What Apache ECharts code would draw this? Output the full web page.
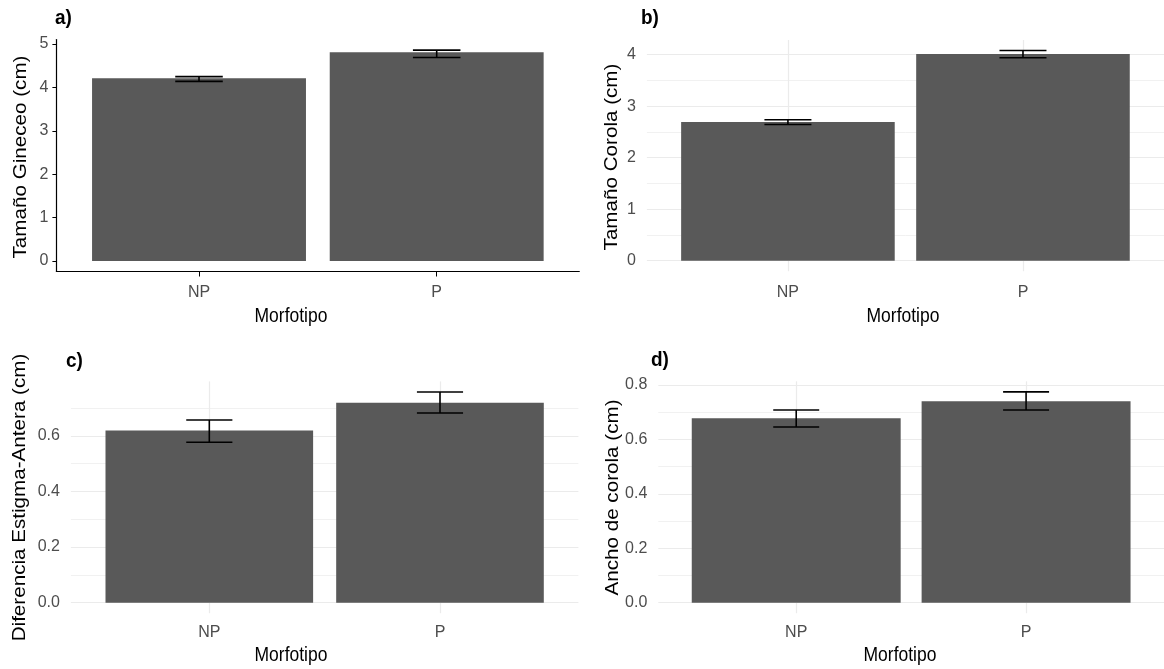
<!DOCTYPE html>
<html>
<head>
<meta charset="utf-8">
<title>Morfotipo</title>
<script src="https://cdn.jsdelivr.net/npm/echarts@6/dist/echarts.min.js"></script>
<style>
html,body{margin:0;padding:0;background:#fff;overflow:hidden;}
#main{width:1164px;height:669px;}
</style>
</head>
<body>
<div id="main"></div>
<script>
var categories = ['NP', 'P'];

// a) Tamaño Gineceo
var ginMean = [4.21, 4.81];
var ginLow = [4.14, 4.69];
var ginHigh = [4.25, 4.86];
var ginTicks = [0, 1, 2, 3, 4, 5];

// b) Tamaño Corola
var corMean = [2.69, 4.01];
var corLow = [2.645, 3.94];
var corHigh = [2.735, 4.08];
var corTicks = [0, 1, 2, 3, 4];
var corMinor = [0.5, 1.5, 2.5, 3.5];

// c) Diferencia Estigma-Antera
var difMean = [0.619, 0.719];
var difLow = [0.577, 0.682];
var difHigh = [0.657, 0.758];
var difTicks = [0, 0.2, 0.4, 0.6];
var difMinor = [0.1, 0.3, 0.5, 0.7];

// d) Ancho de corola
var anchoMean = [0.678, 0.740];
var anchoLow = [0.646, 0.708];
var anchoHigh = [0.708, 0.775];
var anchoTicks = [0, 0.2, 0.4, 0.6, 0.8];
var anchoMinor = [0.1, 0.3, 0.5, 0.7];

var FONT = '"Liberation Sans", Arial, sans-serif';
var STRETCH = 1.18; // the reference picture looks stretched vertically

var panels = [
    {tag:'a)', ytitle:'Tamaño Gineceo (cm)', mean:ginMean, low:ginLow, high:ginHigh, ticks:ginTicks, minor:null, dec:0,
     classic:true, left:56.4, right:584.7, top:39.6, bottom:397.5, xm:13, ym:8,
     tagX:55, tagY:18, xtX:291, xtY:316, ytX:21, ytY:157},
    {tag:'b)', ytitle:'Tamaño Corola (cm)', mean:corMean, low:corLow, high:corHigh, ticks:corTicks, minor:corMinor, dec:0,
     classic:false, left:646.9, right:-5, top:40, bottom:397.8, xm:13, ym:11,
     tagX:641, tagY:18, xtX:903, xtY:316, ytX:612, ytY:157},
    {tag:'c)', ytitle:'Diferencia Estigma-Antera (cm)', mean:difMean, low:difLow, high:difHigh, ticks:difTicks, minor:difMinor, dec:1,
     classic:false, left:70.9, right:585.6, top:381.4, bottom:55.8, xm:11, ym:11,
     tagX:66, tagY:361, xtX:291, xtY:655, ytX:20, ytY:497.5},
    {tag:'d)', ytitle:'Ancho de corola (cm)', mean:anchoMean, low:anchoLow, high:anchoHigh, ticks:anchoTicks, minor:anchoMinor, dec:1,
     classic:false, left:658.3, right:-5, top:381.3, bottom:55.8, xm:11, ym:11,
     tagX:651, tagY:360, xtX:900, xtY:655, ytX:613, ytY:497.5}
];

var grids = [], xAxes = [], yAxes = [], series = [], graphics = [];

function errorBarItem(params, api) {
    var x = api.value(0);
    var pLo = api.coord([x, api.value(1)]);
    var pHi = api.coord([x, api.value(2)]);
    var hw = api.size([0.2, 0])[0] / 2;
    var st = {stroke:'#000', lineWidth:1.6};
    return {type:'group', children:[
        {type:'line', shape:{x1:pHi[0], y1:pHi[1], x2:pLo[0], y2:pLo[1]}, style:st},
        {type:'line', shape:{x1:pHi[0] - hw, y1:pHi[1], x2:pHi[0] + hw, y2:pHi[1]}, style:st},
        {type:'line', shape:{x1:pLo[0] - hw, y1:pLo[1], x2:pLo[0] + hw, y2:pLo[1]}, style:st}
    ]};
}

panels.forEach(function (p, i) {
    grids.push({left:p.left, right:p.right, top:p.top, bottom:p.bottom, containLabel:false});
    var gridW = 1164 - p.left - p.right;
    var band = gridW / 2.2;
    var topVal = Math.max.apply(null, p.high);
    var yMin = -0.05 * topVal, yMax = topVal * 1.05;

    xAxes.push({
        type:'value', gridIndex:i, min:0.4, max:2.6,
        axisLine:{show:p.classic, onZero:false, lineStyle:{color:'#000', width:1.2}},
        axisTick:{show:p.classic, customValues:[1, 2], length:5, lineStyle:{color:'#000'}},
        axisLabel:{customValues:[1, 2], margin:p.xm, color:'#4D4D4D', fontSize:16, fontFamily:FONT,
            formatter:function (v) { return categories[Math.round(v) - 1]; }},
        splitLine:{show:!p.classic, lineStyle:{color:'#EBEBEB', width:1.2}}
    });
    var majorIdx = yAxes.length;
    yAxes.push({
        type:'value', gridIndex:i, min:yMin, max:yMax,
        axisLine:{show:p.classic, onZero:false, lineStyle:{color:'#000', width:1.2}},
        axisTick:{show:p.classic, customValues:p.ticks, length:4, lineStyle:{color:'#000'}},
        axisLabel:{customValues:p.ticks, margin:p.ym, color:'#4D4D4D', fontSize:16, fontFamily:FONT,
            formatter:function (v) { return v.toFixed(p.dec); }},
        splitLine:{show:!p.classic, lineStyle:{color:'#EBEBEB', width:1.2}}
    });
    if (p.minor) {
        yAxes.push({
            type:'value', gridIndex:i, min:yMin, max:yMax, position:'left',
            axisLine:{show:false}, axisLabel:{show:false},
            axisTick:{show:false, customValues:p.minor},
            splitLine:{show:true, lineStyle:{color:'#F1F1F1', width:1}}
        });
    }

    var barData = [], errData = [];
    for (var k = 0; k < categories.length; k++) {
        barData.push([k + 1, p.mean[k]]);
        errData.push([k + 1, p.low[k], p.high[k]]);
    }
    series.push({
        type:'bar', xAxisIndex:i, yAxisIndex:majorIdx, data:barData,
        barWidth:band * 0.9, itemStyle:{color:'#595959'}, z:2, silent:true
    });
    series.push({
        type:'custom', xAxisIndex:i, yAxisIndex:majorIdx, data:errData,
        encode:{x:0, y:[1, 2]}, renderItem:errorBarItem, z:3, silent:true
    });

    graphics.push({type:'text', x:p.tagX, y:p.tagY, scaleY:1.1, style:{text:p.tag, fill:'#000',
        font:'bold 19px ' + FONT, textAlign:'left', textVerticalAlign:'middle'}});
    graphics.push({type:'text', x:p.xtX, y:p.xtY, scaleY:STRETCH, style:{text:'Morfotipo', fill:'#000',
        font:'17.5px ' + FONT, textAlign:'center', textVerticalAlign:'middle'}});
    graphics.push({type:'text', x:p.ytX, y:p.ytY, rotation:Math.PI / 2, scaleX:1.16, style:{text:p.ytitle, fill:'#000',
        font:'17.8px ' + FONT, textAlign:'center', textVerticalAlign:'middle'}});
});

var myChart = echarts.init(document.getElementById('main'));
myChart.setOption({
    animation:false,
    backgroundColor:'#fff',
    grid:grids,
    xAxis:xAxes,
    yAxis:yAxes,
    series:series,
    graphic:graphics
});
</script>
</body>
</html>
